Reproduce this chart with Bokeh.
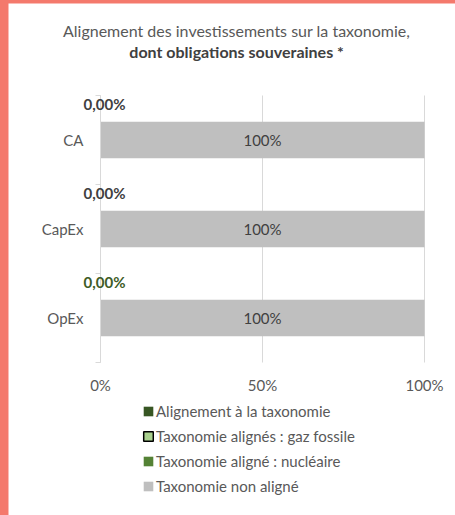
from bokeh.plotting import figure
from bokeh.models import (Range1d, FixedTicker, Label, LabelSet, ColumnDataSource,
                          Legend, LegendItem)
from bokeh.layouts import column
from bokeh.embed import file_html
from bokeh.resources import INLINE
from bokeh.core.properties import value

categories = ["CA", "CapEx", "OpEx"]
aligne = [0.0, 0.0, 0.0]
gaz_fossile = [0.0, 0.0, 0.0]
nucleaire = [0.0, 0.0, 0.0]
non_aligne = [100.0, 100.0, 100.0]
x_ticks = [0, 50, 100]
series_names = ["Alignement à la taxonomie", "Taxonomie alignés : gaz fossile",
                "Taxonomie aligné : nucléaire", "Taxonomie non aligné"]
series_colors = ["#375623", "#A9D18E", "#548235", "#BFBFBF"]
aligned_label_colors = ["#404040", "#404040", "#3E5C26"]

FONT = "Lato"
n = len(categories)
pos = [n - 0.5 - i for i in range(n)]

src = ColumnDataSource(dict(
    y=pos, cat=categories, aligne=aligne, gaz=gaz_fossile, nuc=nucleaire, non=non_aligne,
    aligned_txt=[("%.2f" % v).replace(".", ",") + "%" for v in aligne],
    non_txt=["%d%%" % round(v) for v in non_aligne],
    lab_col=aligned_label_colors,
    top_y=[p_ + 0.5 - 0.1 for p_ in pos],
    mid_x=[a + g + nn + v / 2 for a, g, nn, v in zip(aligne, gaz_fossile, nucleaire, non_aligne)],
))

# frame covers whole canvas; plot area 0..100 x 0..3 mapped inside it
W, H = 447, 512
left_px, right_px, top_px, bot_px = 92, 416, 92, 359
xs = (right_px - left_px) / 100.0
ys = (bot_px - top_px) / float(n)
x_range = Range1d(-left_px / xs, 100 + (W - right_px) / xs)
y_range = Range1d(-(H - bot_px) / ys, n + top_px / ys)

p = figure(width=W, height=H, x_range=x_range, y_range=y_range,
           output_backend="svg", toolbar_location=None, title=None,
           min_border_left=0, min_border_right=0, min_border_top=0, min_border_bottom=0,
           outline_line_color=None, background_fill_color="white", border_fill_color="white")

# vertical grid lines limited to the plot area
p.xgrid.grid_line_color = None
p.ygrid.grid_line_color = None
p.segment(x0=x_ticks, x1=x_ticks, y0=[0] * len(x_ticks), y1=[n] * len(x_ticks),
          line_color="#D9D9D9", line_width=1)

keys = ["aligne", "gaz", "nuc", "non"]
p.hbar_stack(keys, y="y", height=0.41, color=series_colors, source=src, line_color=None)

# legend-only renderers
leg_items = []
for k, name, col in zip(keys, series_names, series_colors):
    r = p.hbar(y="y", left=0, right=k, height=0.41, source=src, fill_color=col,
               line_color="black" if k == "gaz" else None, line_width=1.5, visible=False)
    leg_items.append(LegendItem(label=name, renderers=[r]))

legend = Legend(items=leg_items, location=(134, 20), orientation="vertical",
                border_line_color=None, background_fill_alpha=0,
                label_text_font=FONT, label_text_font_size="15px", label_text_color="#595959",
                glyph_width=12, glyph_height=12, label_height=16, spacing=7, label_standoff=2,
                padding=0, margin=0)
p.add_layout(legend, "center")

# axes drawn inside the frame
p.xaxis.fixed_location = 0
p.xaxis.ticker = FixedTicker(ticks=x_ticks)
p.xaxis.major_label_overrides = {t: "%d%%" % t for t in x_ticks}
p.xaxis.axis_line_color = None
p.xaxis.major_tick_line_color = None
p.xaxis.minor_tick_line_color = None
p.xaxis.major_label_standoff = 7
p.xaxis.major_label_text_font = FONT
p.xaxis.major_label_text_font_size = "15px"
p.xaxis.major_label_text_color = "#595959"

p.yaxis.fixed_location = 0
p.yaxis.bounds = (0, n)
p.yaxis.ticker = FixedTicker(ticks=pos, minor_ticks=list(range(n + 1)))
p.yaxis.major_label_overrides = {pp: c for pp, c in zip(pos, categories)}
p.yaxis.axis_line_color = "#D9D9D9"
p.yaxis.major_tick_line_color = None
p.yaxis.minor_tick_line_color = "#D9D9D9"
p.yaxis.minor_tick_out = 5
p.yaxis.minor_tick_in = 0
p.yaxis.major_label_standoff = 11
p.yaxis.major_label_text_font = FONT
p.yaxis.major_label_text_font_size = "15px"
p.yaxis.major_label_text_color = "#595959"

# labels
p.add_layout(LabelSet(x="mid_x", y="y", text="non_txt", source=src, text_align="center",
                      text_baseline="middle", text_font=value(FONT), text_font_size="15px",
                      text_color="#404040"))
p.add_layout(LabelSet(x="aligne", y="top_y", text="aligned_txt", source=src, x_offset=4,
                      text_align="center", text_baseline="middle", text_font=value(FONT),
                      text_font_size="15px", text_font_style="bold", text_color="lab_col"))

p.add_layout(Label(x=42, y=n + 0.73, text="Alignement des investissements sur la taxonomie,",
                   text_align="center", text_baseline="middle", text_font=FONT,
                   text_font_size="16px", text_color="#595959"))
p.add_layout(Label(x=42, y=n + 0.50, text="dont obligations souveraines *",
                   text_align="center", text_baseline="middle", text_font=FONT,
                   text_font_size="16px", text_font_style="bold", text_color="#404040"))

layout = column(p, styles={"background-color": "#F4796C", "padding-left": "8px",
                           "padding-top": "3px", "width": "455px", "height": "515px"})

open("out.html", "w").write(file_html(layout, INLINE))
